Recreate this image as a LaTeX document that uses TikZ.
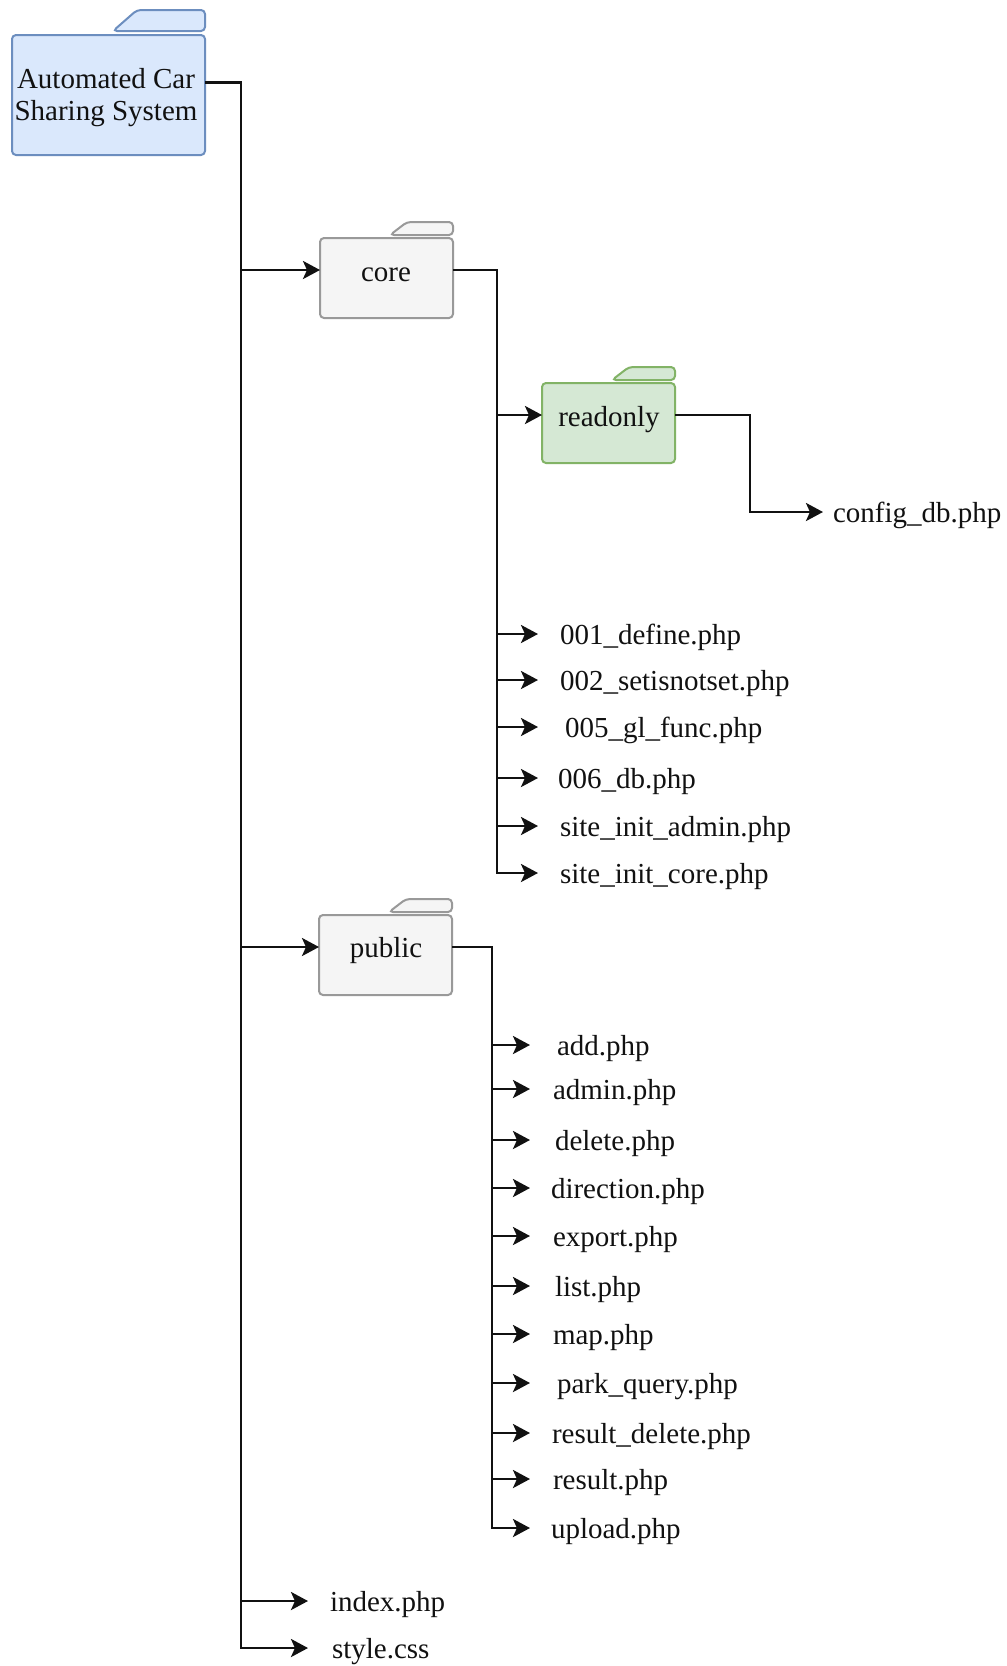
\documentclass[tikz,border=0pt]{standalone}
\usepackage{fontspec}
\setmainfont{Liberation Serif}
\usetikzlibrary{arrows.meta,backgrounds}

\definecolor{rootfill}{HTML}{DAE8FC}
\definecolor{rootline}{HTML}{6C8EBF}
\definecolor{grayfill}{HTML}{F5F5F5}
\definecolor{grayline}{HTML}{999999}
\definecolor{greenfill}{HTML}{D5E8D4}
\definecolor{greenline}{HTML}{82B366}
\definecolor{ink}{HTML}{111111}

% folder outline behind a node: body plus a tab at the top right
% #1 node, #2 fill, #3 stroke, #4 tab height, #5 gap under tab,
% #6 tab foot offset from right edge, #7 tab top offset from right edge
\newcommand\folderdraw[7]{%
  \filldraw[fill=#2,draw=#3,line width=2pt,rounded corners=4pt]
    (#1.south west) rectangle ([yshift={-(#4+#5)}]#1.north east);
  \filldraw[fill=#2,draw=#3,line width=2pt,rounded corners=4pt]
    ([xshift=-#6,yshift=-#4]#1.north east) -- ([xshift=-#7]#1.north east)
    -- (#1.north east) -- ([yshift=-#4]#1.north east) -- cycle;
}

\tikzset{
  folder/.style={inner sep=0pt, outer sep=0pt, draw=none},
  ftext/.style={font=\fontsize{29}{32}\selectfont, text=ink, inner sep=0pt, outer sep=0pt},
  % file names: the west anchor sits a little above the x-height middle
  file/.style={ftext, text height=28pt, text depth=7pt, anchor=west},
  link/.style={line width=2.8pt, draw=ink},
  arr/.style={link, -{Stealth[length=17pt,width=18pt,inset=4pt]}},
}

\begin{document}
\begin{tikzpicture}[x=1pt,y=-1pt]
\useasboundingbox (0,0) rectangle (1007,1666);

% folders
\node[folder,minimum width=193pt,minimum height=145pt] (root) at (108.5,82.5) {};
\node[ftext,align=center,anchor=north] (rootlbl) at (106,68) {Automated Car\\Sharing System};

\node[folder,minimum width=133pt,minimum height=96pt] (core) at (386.5,270) {};
\node[ftext,anchor=base] (corelbl) at (386,281.5) {core};

\node[folder,minimum width=133pt,minimum height=96pt] (readonly) at (608.5,415) {};
\node[ftext,anchor=base] (readonlylbl) at (609,426) {readonly};

\node[folder,minimum width=133pt,minimum height=96pt] (public) at (385.5,947) {};
\node[ftext,anchor=base] (publiclbl) at (386,957.5) {public};

% trunk and tip columns
\coordinate (rv) at (241,0);   \coordinate (rtip) at (308,0);
\coordinate (cv) at (497,0);   \coordinate (ctip) at (538,0);
\coordinate (rov) at (750,0);  \coordinate (rotip) at (823,0);
\coordinate (pv) at (492,0);   \coordinate (ptip) at (530,0);

% files in readonly
\node[file] (cfg) at (833,512) {config\_db.php};

% files in core
\node[file] (d001) at (560,634) {001\_define.php};
\node[file] (d002) at (560,680) {002\_setisnotset.php};
\node[file] (d005) at (565,727) {005\_gl\_func.php};
\node[file] (d006) at (558,778) {006\_db.php};
\node[file] (dadm) at (560,826) {site\_init\_admin.php};
\node[file] (dcore) at (560,873) {site\_init\_core.php};

% files in public
\node[file] (padd) at (557,1045) {add.php};
\node[file] (padmin) at (553,1089) {admin.php};
\node[file] (pdelete) at (555,1140) {delete.php};
\node[file] (pdir) at (551,1188) {direction.php};
\node[file] (pexport) at (553,1236) {export.php};
\node[file] (plist) at (555,1286) {list.php};
\node[file] (pmap) at (553,1334) {map.php};
\node[file] (ppark) at (557,1383) {park\_query.php};
\node[file] (presdel) at (552,1433) {result\_delete.php};
\node[file] (presult) at (553,1479) {result.php};
\node[file] (pupload) at (551,1528) {upload.php};

% files at top level
\node[file] (index) at (330,1601) {index.php};
\node[file] (style) at (332,1648) {style.css};

% folder outlines
\begin{scope}[on background layer]
  \fill[white] (0,0) rectangle (1007,1666);
  \folderdraw{root}{rootfill}{rootline}{21pt}{4pt}{92pt}{68pt}
  \folderdraw{core}{grayfill}{grayline}{13pt}{3pt}{63pt}{46pt}
  \folderdraw{readonly}{greenfill}{greenline}{13pt}{3pt}{63pt}{46pt}
  \folderdraw{public}{grayfill}{grayline}{13pt}{3pt}{63pt}{46pt}
\end{scope}

% top level tree
\draw[arr] (root.east) -- (rv |- root.east) |- (rtip |- style.west);
\draw[arr] (rv |- core.west) -- (core.west);
\draw[arr] (rv |- public.west) -- (public.west);
\draw[arr] (rv |- index.west) -- (rtip |- index.west);

% core tree
\draw[arr] (core.east) -- (cv |- core.east) |- (ctip |- dcore.west);
\draw[arr] (cv |- readonly.west) -- (readonly.west);
\foreach \n in {d001,d002,d005,d006,dadm}
  \draw[arr] (cv |- \n.west) -- (ctip |- \n.west);

% readonly tree
\draw[arr] (readonly.east) -- (rov |- readonly.east) |- (rotip |- cfg.west);

% public tree
\draw[arr] (public.east) -- (pv |- public.east) |- (ptip |- pupload.west);
\foreach \n in {padd,padmin,pdelete,pdir,pexport,plist,pmap,ppark,presdel,presult}
  \draw[arr] (pv |- \n.west) -- (ptip |- \n.west);
\end{tikzpicture}
\end{document}
